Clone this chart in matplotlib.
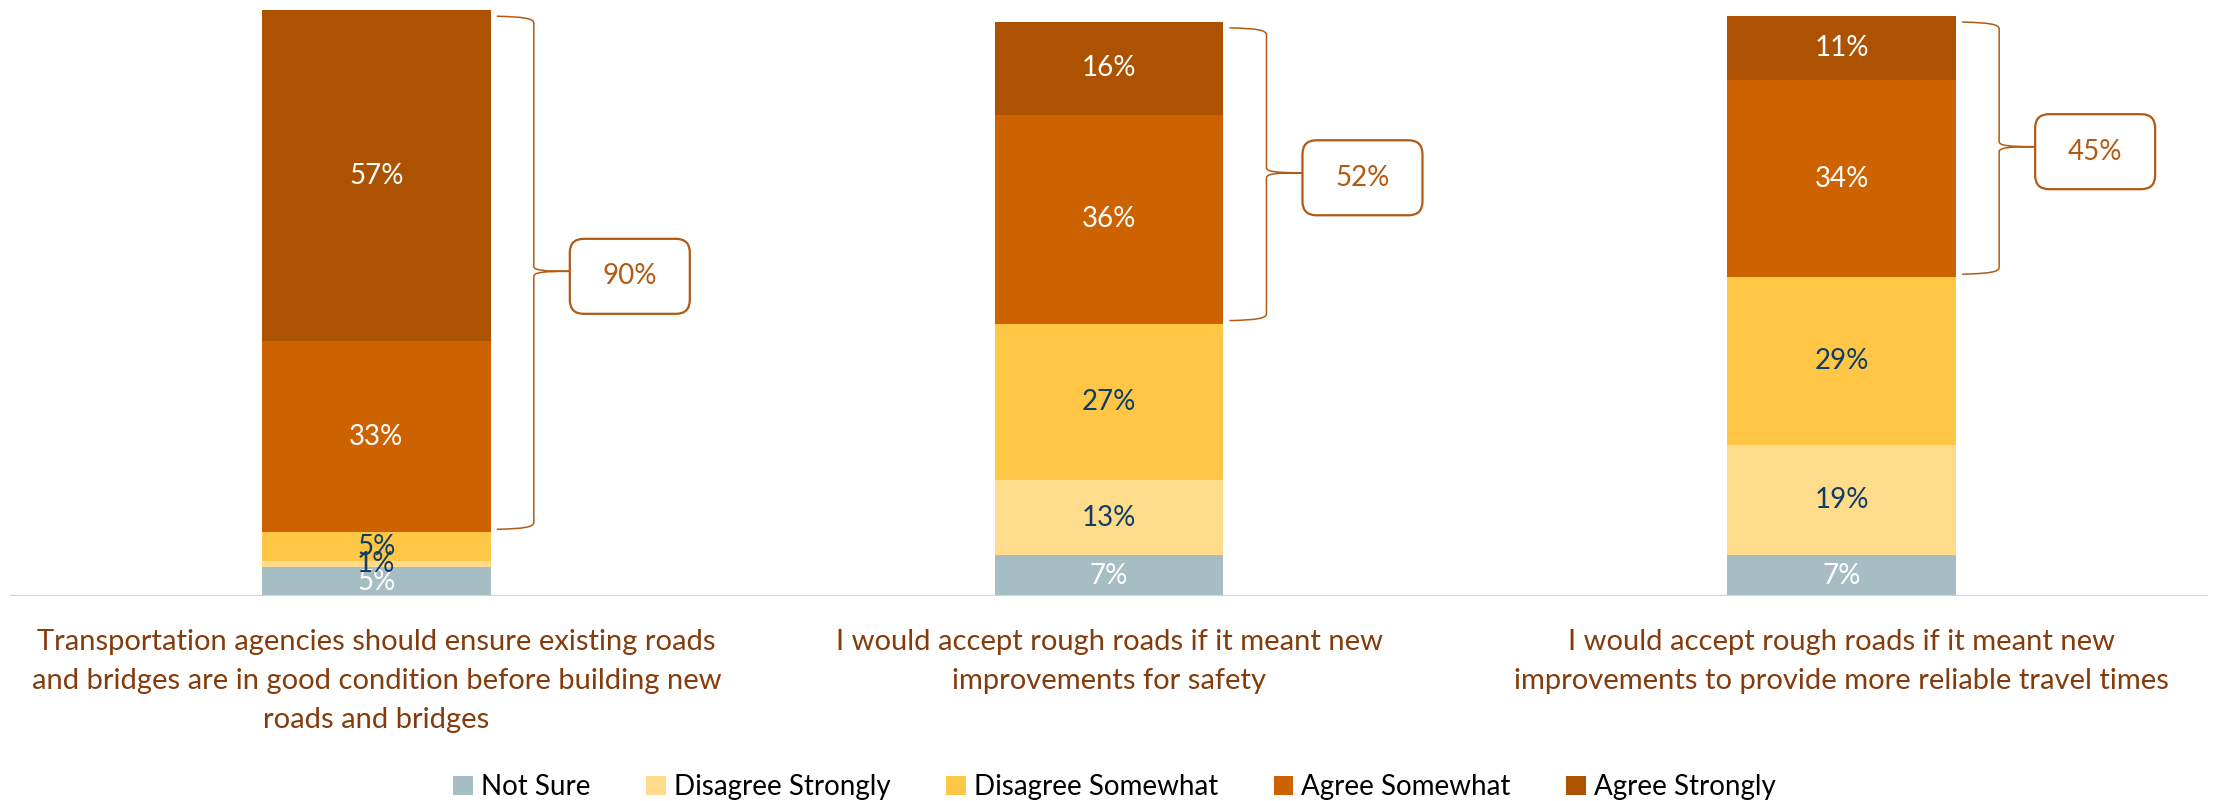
import matplotlib
matplotlib.use("Agg")
import matplotlib.pyplot as plt
from matplotlib.patches import Patch, FancyBboxPatch, PathPatch
from matplotlib.path import Path
from matplotlib.transforms import ScaledTranslation

# ---- data -------------------------------------------------------------
categories = [
    "Transportation agencies should ensure existing roads\nand bridges are in good condition before building new\nroads and bridges",
    "I would accept rough roads if it meant new\nimprovements for safety",
    "I would accept rough roads if it meant new\nimprovements to provide more reliable travel times",
]
series_names = ["Not Sure", "Disagree Strongly", "Disagree Somewhat",
                "Agree Somewhat", "Agree Strongly"]
not_sure = [5, 7, 7]
disagree_strongly = [1, 13, 19]
disagree_somewhat = [5, 27, 29]
agree_somewhat = [33, 36, 34]
agree_strongly = [57, 16, 11]
agree_totals = [90, 52, 45]

series = [not_sure, disagree_strongly, disagree_somewhat, agree_somewhat, agree_strongly]
colors = ["#A6BDC4", "#FFDB8C", "#FFC745", "#CC6200", "#AD5200"]
label_colors = ["white", "#0E3D66", "#0E3D66", "white", "white"]
accent = "#B35A12"
cat_color = "#843C0C"

plt.rcParams["font.family"] = ["Lato", "DejaVu Sans"]

W, H, DPI = 22.16, 8.01, 100
fig = plt.figure(figsize=(W, H), dpi=DPI)
ax_left, ax_right = 10 / 2216, 2208 / 2216
ax_bottom = (801 - 596) / 801
ax = fig.add_axes([ax_left, ax_bottom, ax_right - ax_left, 1 - ax_bottom])
ymax = 102.8
ax.set_xlim(-0.5, 2.5)
ax.set_ylim(0, ymax)
ax.axis("off")

x = list(range(len(categories)))
bar_w = 0.3125
bottoms = [0.0] * len(x)
for vals, col, lc in zip(series, colors, label_colors):
    ax.bar(x, vals, bar_w, bottom=bottoms, color=col, linewidth=0, zorder=2)
    for i, v in enumerate(vals):
        ax.text(x[i], bottoms[i] + v / 2, f"{v}%", ha="center", va="center",
                fontsize=20, color=lc, zorder=3)
    bottoms = [b + v for b, v in zip(bottoms, vals)]

# baseline
ax.axhline(0, color="#BDD7EE", lw=1.6, zorder=4, xmin=0, xmax=1)

# braces and callout boxes for the combined "agree" share
px_x = (ax_right - ax_left) * W * DPI / 3.0  # pixels per category unit
px_y = (1 - ax_bottom) * H * DPI / ymax       # pixels per percentage point
for i in x:
    top = sum(s[i] for s in series)
    low = not_sure[i] + disagree_strongly[i] + disagree_somewhat[i]
    yt, yb = top - 1.0, low + 0.5
    ym = (top + low) / 2
    xe = x[i] + bar_w / 2
    x0 = xe + 6 / px_x
    xv = xe + 43 / px_x
    xt = xe + 79 / px_x
    r = 7 / px_y
    rm = 5 / px_y
    verts = [
        (x0, yt), (xv - 10 / px_x, yt - 0.1 * r), (xv, yt - 0.3 * r), (xv, yt - r),
        (xv, ym + rm),
        (xv, ym + 0.2 * rm), (xv + 10 / px_x, ym), (xt, ym),
        (xt, ym),
        (xv + 10 / px_x, ym), (xv, ym - 0.2 * rm), (xv, ym - rm),
        (xv, yb + r),
        (xv, yb + 0.3 * r), (xv - 10 / px_x, yb + 0.1 * r), (x0, yb),
    ]
    codes = [Path.MOVETO, Path.CURVE4, Path.CURVE4, Path.CURVE4,
             Path.LINETO,
             Path.CURVE4, Path.CURVE4, Path.CURVE4,
             Path.MOVETO,
             Path.CURVE4, Path.CURVE4, Path.CURVE4,
             Path.LINETO,
             Path.CURVE4, Path.CURVE4, Path.CURVE4]
    ax.add_patch(PathPatch(Path(verts, codes), fill=False, edgecolor=accent,
                           lw=1.1, zorder=3))

    bw, bh = 120 / DPI, 75 / DPI
    off = ScaledTranslation(xt, ym, ax.transData)
    tr = fig.dpi_scale_trans + off
    box = FancyBboxPatch((0, -bh / 2 - 5 / DPI), bw, bh,
                         boxstyle="round,pad=0,rounding_size=0.14",
                         transform=tr, facecolor="white", edgecolor=accent,
                         lw=1.6, zorder=3)
    ax.add_patch(box)
    ax.text(bw / 2, -5 / DPI, f"{agree_totals[i]}%", transform=tr,
            ha="center", va="center", fontsize=20, color=accent, zorder=4)

# category labels below the baseline
for i, lab in enumerate(categories):
    ax.text(x[i], 0, lab, transform=ax.transData + ScaledTranslation(0, -33 / DPI, fig.dpi_scale_trans),
            ha="center", va="top", fontsize=21, color=cat_color, linespacing=1.62,
            clip_on=False)

handles = [Patch(facecolor=c, edgecolor="none", label=n) for c, n in zip(colors, series_names)]
fig.legend(handles=handles, loc="center", bbox_to_anchor=(0.503, 1 - 787 / 801),
           ncol=5, frameon=False, fontsize=20, handlelength=0.7, handleheight=0.7,
           handletextpad=0.3, columnspacing=2.0)

fig.savefig("out.png", dpi=DPI)
